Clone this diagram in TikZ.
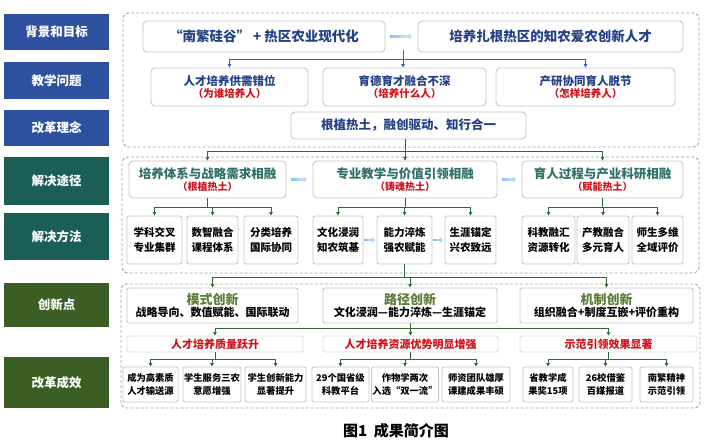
\documentclass[tikz,border=0pt]{standalone}
\usepackage{fontspec}
\setmainfont{Noto Sans CJK SC}
\usetikzlibrary{arrows.meta,positioning,fadings}

\definecolor{labblue}{HTML}{2D509F}
\definecolor{labteal}{HTML}{1B5E55}
\definecolor{labgreen}{HTML}{3B5E24}
\definecolor{navy}{HTML}{233F86}
\definecolor{tealtxt}{HTML}{2F7068}
\definecolor{greentxt}{HTML}{5A7D38}
\definecolor{redtxt}{HTML}{D0121B}
\definecolor{lineblue}{HTML}{2E5ED6}
\definecolor{linegreen}{HTML}{2F6A34}
\definecolor{boxgray}{HTML}{C6C6C6}
\definecolor{dashblue}{HTML}{94A3C9}
\definecolor{dashteal}{HTML}{86ABA5}
\definecolor{dashgreen}{HTML}{9BB183}
\definecolor{fadeblue}{HTML}{6FAEF0}

\begin{document}
\begin{tikzpicture}[x=1pt,y=-1pt,
  lab/.style={fill=#1, minimum width=105pt, text=white, inner sep=0pt,
    font=\fontsize{12.5}{14}\selectfont\bfseries},
  box/.style={draw=boxgray, line width=0.9pt, rounded corners=4pt, fill=white,
    align=center, inner sep=1pt},
  cell/.style={box, rounded corners=2pt, minimum height=48pt,
    font=\fontsize{10.5}{14.5}\selectfont\bfseries},
  result/.style={box, rounded corners=2pt, minimum height=35pt,
    font=\fontsize{9.3}{13}\selectfont\bfseries},
  region/.style={draw=#1, line width=0.9pt, dash pattern=on 3pt off 2pt, rounded corners=6pt},
  blueline/.style={draw=lineblue, line width=1pt, -{Triangle[length=3.5pt,width=3.5pt]}},
  greenline/.style={draw=linegreen, line width=1pt, -{Triangle[length=3.5pt,width=3.5pt]}},
  fadearrow/.style={draw=fadeblue, line width=2.5pt, path fading=east,
    -{Triangle[length=4pt,width=6pt]}, shorten <=#1, shorten >=#1},
  fadearrow/.default=5pt]
\useasboundingbox (0,0) rectangle (706,447);

% Left column labels
\foreach \nm/\y/\h/\col/\lbl in {L1/32/36/labblue/背景和目标, L2/80.5/37/labblue/教学问题,
    L3/128/36/labblue/改革理念, L4/181/48/labteal/解决途径, L5/236.5/47/labteal/解决方法,
    L6/305/44/labgreen/创新点, L7/382.5/51/labgreen/改革成效}
  \node[lab=\col, minimum height=\h pt] (\nm) at (56.5,\y) {\lbl};

% Dashed regions
\draw[region=dashblue] (123,13) rectangle (699,147);
\draw[region=dashteal] (122,157) rectangle (699,273);
\draw[region=dashgreen] (121,284) rectangle (700,408);

% Background and goal
\node[box, minimum width=242pt, minimum height=31pt, text=navy,
  font=\fontsize{13.5}{15}\selectfont\bfseries] (tA) at (264,36.5) {“南繁硅谷” + 热区农业现代化};
\node[box, minimum width=265pt, minimum height=31pt, text=navy,
  font=\fontsize{13.5}{15}\selectfont\bfseries] (tB) at (550.5,36.5) {培养扎根热区的知农爱农创新人才};
\draw[fadearrow] (tA) -- (tB);

% Teaching problems
\foreach \nm/\x/\w/\hd/\rd in {p1/229.5/157/人才培养供需错位/为谁培养人,
    p2/404.5/163/育德育才融合不深/培养什么人, p3/585.5/179/产研协同育人脱节/怎样培养人}
  \node[box, minimum width=\w pt, minimum height=38pt, font=\bfseries] (\nm) at (\x,87)
    {\textcolor{navy}{\fontsize{11.5}{14}\selectfont\hd}\\
     \textcolor{redtxt}{\fontsize{10.5}{13}\selectfont（\rd）}};

% Reform idea
\node[box, minimum width=235pt, minimum height=27pt, text=navy,
  font=\fontsize{12.5}{14}\selectfont\bfseries] (idea) at (408.5,125.5) {根植热土，融创驱动、知行合一};

% Blue connectors
\coordinate (hub) at (403,50);
\draw[blueline] (hub) -- (hub |- p2.north);
\draw[blueline] (hub |- 0,59) -| (p1.north);
\draw[blueline] (hub |- 0,59) -| (p3.north);

% Solution routes
\foreach \nm/\x/\w/\hd/\rd in {r1/207.5/157/培养体系与战略需求相融/根植热土,
    r2/405/184/专业教学与价值引领相融/铸魂热土, r3/602.5/161/育人过程与产业科研相融/赋能热土}
  \node[box, minimum width=\w pt, minimum height=37pt, font=\bfseries] (\nm) at (\x,179.5)
    {\textcolor{tealtxt}{\fontsize{12.5}{15}\selectfont\hd}\\
     \textcolor{redtxt}{\fontsize{10}{12}\selectfont（\rd）}};
\draw[fadearrow] (r1) -- (r2);
\draw[fadearrow] (r2) -- (r3);

\draw[greenline] (r2.north |- idea.south) -- (r2.north);
\draw[greenline] (r2.north |- 0,151) -| (r1.north);
\draw[greenline] (r2.north |- 0,151) -| (r3.north);

% Solution methods
\foreach \nm/\x/\w/\lbl in {m1/154.5/55/{学科交叉\\专业集群}, m2/212.5/51/{数智融合\\课程体系},
    m3/271/54/{分类培养\\国际协同}, m4/338/50/{文化浸润\\知农筑基}, m5/404.5/55/{能力淬炼\\强农赋能},
    m6/470.5/51/{生涯锚定\\兴农致远}, m7/548.5/53/{科教融汇\\资源转化}, m8/603/52/{产教融合\\多元育人},
    m9/657.5/51/{师生多维\\全域评价}}
  \node[cell, minimum width=\w pt] (\nm) at (\x,240) {\lbl};
\draw[fadearrow=1pt] (m4) -- (m5);
\draw[fadearrow=1pt] (m5) -- (m6);

\foreach \r/\a/\b/\c in {r1/m1/m2/m3, r2/m4/m5/m6, r3/m7/m8/m9} {
  \draw[greenline] (\r.south) -- ++(0,9) -| (\a.north);
  \draw[greenline] (\r.south) -- ++(0,9) -| (\b.north);
  \draw[greenline] (\r.south) -- ++(0,9) -| (\c.north);
}

% Innovation points
\foreach \nm/\x/\w/\hd/\rd in {i1/212.5/171/模式创新/战略导向、数值赋能、国际联动,
    i2/410/174/路径创新/文化浸润—能力淬炼—生涯锚定, i3/606.5/173/机制创新/组织融合+制度互嵌+评价重构}
  \node[box, rounded corners=2pt, minimum width=\w pt, minimum height=35pt, font=\bfseries] (\nm) at (\x,305.5)
    {\textcolor{greentxt}{\fontsize{13}{15}\selectfont\hd}\\
     {\fontsize{11}{13}\selectfont\rd}};

\draw[greenline] (m5.south) -- ++(0,13) -| (i1.north);
\draw[greenline] (m5.south) -- ++(0,13) -| (i2.north);
\draw[greenline] (m5.south) -- ++(0,13) -| (i3.north);

% Reform results
\foreach \nm/\x/\w/\lbl in {h1/215/176/人才培养质量跃升, h2/410.5/175/人才培养资源优势明显增强,
    h3/608.5/177/示范引领效果显著}
  \node[box, draw=boxgray!60, rounded corners=2pt, minimum width=\w pt, minimum height=16pt,
    text=redtxt, font=\fontsize{11}{13}\selectfont\bfseries] (\nm) at (\x,344) {\lbl};

\draw[greenline] (i2.south) -- ++(0,5) -| (h1.north);
\draw[greenline] (i2.south) -- ++(0,5) -| (h2.north);
\draw[greenline] (i2.south) -- ++(0,5) -| (h3.north);

\foreach \nm/\x/\w/\lbl in {e1/150.5/55/{成为高素质\\人才输送源}, e2/212/58/{学生服务三农\\意愿增强},
    e3/275.5/61/{学生创新能力\\显著提升}, e4/340.5/57/{29个国省级\\科教平台}, e5/405/62/{作物学两次\\入选“双一流”},
    e6/476/68/{师资团队雄厚\\课建成果丰硕}, e7/548/50/{省教学成\\果奖15项}, e8/605.5/53/{26校借鉴\\百媒报道},
    e9/666.5/53/{南繁精神\\示范引领}}
  \node[result, minimum width=\w pt] (\nm) at (\x,384.5) {\lbl};

\foreach \h/\a/\b/\c in {h1/e1/e2/e3, h2/e4/e5/e6, h3/e7/e8/e9} {
  \draw[greenline] (\h.south) -- ++(0,7) -| (\a.north);
  \draw[greenline] (\h.south) -- ++(0,7) -| (\b.north);
  \draw[greenline] (\h.south) -- ++(0,7) -| (\c.north);
}

% Caption
\node[font=\fontsize{15}{17}\selectfont\bfseries] (cap) at (396,431) {图1\ \ 成果简介图};
\end{tikzpicture}
\end{document}
